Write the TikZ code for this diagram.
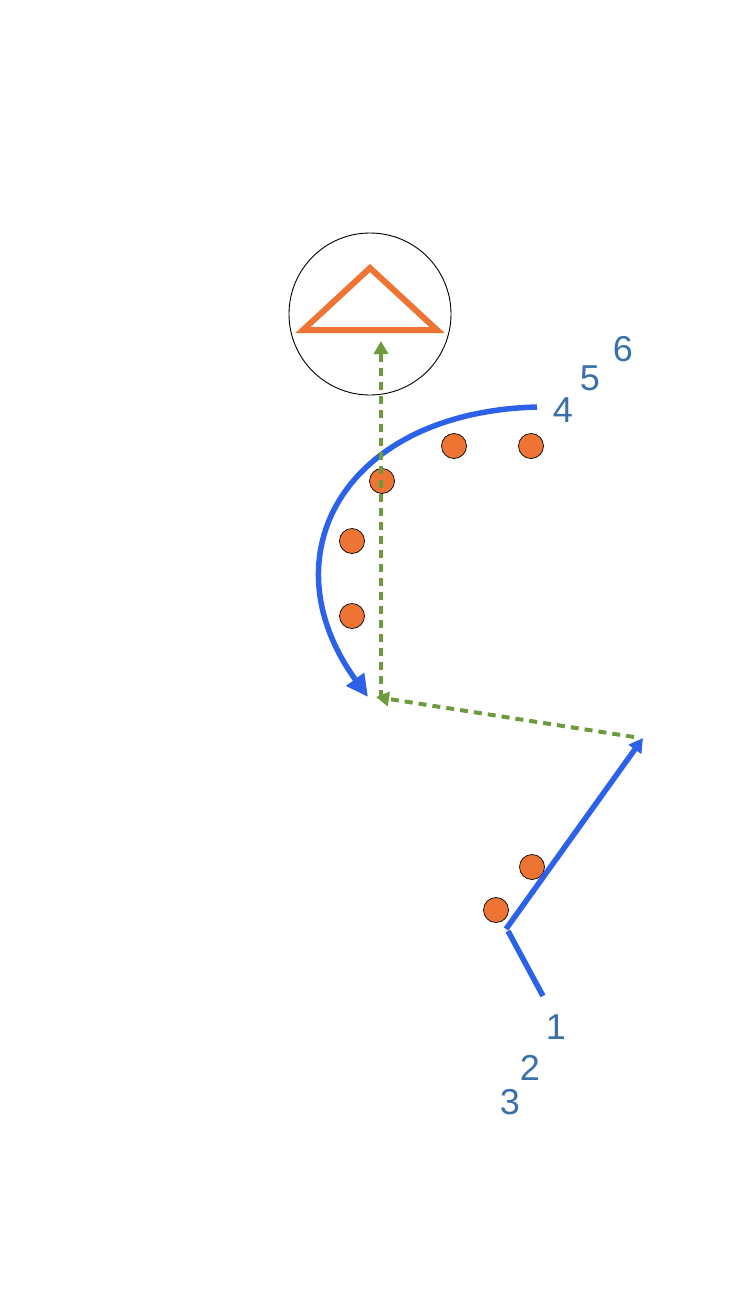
\documentclass[tikz,border=0pt]{standalone}
\usepackage{fontspec}
\setmainfont{Liberation Sans}
\usetikzlibrary{arrows.meta, shapes.geometric}
\definecolor{PlayBlue}{HTML}{2C62EA}
\definecolor{PlayOrange}{HTML}{ED7433}
\definecolor{PlayGreen}{HTML}{6E9A3E}
\definecolor{LabelBlue}{HTML}{3A70AA}

\tikzset{
  player/.style={circle, draw=black, line width=0.7pt, fill=PlayOrange, minimum size=25pt, inner sep=0pt},
  run/.style={PlayBlue, line width=5.5pt},
  pass/.style={PlayGreen, line width=4pt, dash pattern=on 8pt off 6pt},
  num/.style={LabelBlue, font=\fontsize{36}{42}\selectfont, inner sep=0pt}
}

\begin{document}
\begin{tikzpicture}[x=1pt, y=-1pt]
                \useasboundingbox (0,0) rectangle (739,1314);

                % Goal
                \node[circle, draw=black, line width=0.9pt, minimum size=162pt, inner sep=0pt] (goal) at (370,314) {};
                \draw[PlayOrange, line width=6pt, line join=miter] (370,268) -- (437,330) -- (303,330) -- cycle;

                % Players
                \node[player] (p1) at (454,446) {};
                \node[player] (p2) at (531,446) {};
                \node[player] (p3) at (382,481) {};
                \node[player] (p4) at (352,541) {};
                \node[player] (p5) at (352,616) {};
                \node[player] (p6) at (532,867) {};
                \node[player] (p7) at (496,910) {};

                % Route points
                \coordinate (curveStart) at (537,407);
                \coordinate (curveEnd) at (368,697);
                \coordinate (cutStart) at (543,996);
                \coordinate (cutTurn) at (508,931);
                \coordinate (cutBreak) at (506,929);
                \coordinate (cutEnd) at (643,738);
                \coordinate (passFrom) at (634,737);
                \coordinate (passTo) at (376,697);
                \coordinate (shotFrom) at (381,698);
                \coordinate (shotTo) at (381,341);

                % Runs
                \draw[run, -{Triangle[length=22pt, width=21pt]}] (curveStart) .. controls (345,412) and (265,555) .. (curveEnd);
                \draw[run] (cutStart) -- (cutTurn);
                \draw[run, -{Triangle[length=14pt, width=15pt]}] (cutBreak) -- (cutEnd);

                % Passes
                \draw[pass, -{Triangle[length=13pt, width=14pt]}] (passFrom) -- (passTo);
                \draw[pass, -{Triangle[length=13pt, width=14pt]}] (shotFrom) -- (shotTo);

                % Numbers
                \node[num] (n4) at (563,410) {4};
                \node[num] (n5) at (590,378) {5};
                \node[num] (n6) at (623,349) {6};
                \node[num] (n1) at (556,1027) {1};
                \node[num] (n2) at (530,1068) {2};
                \node[num] (n3) at (510,1102) {3};
            \end{tikzpicture}
\end{document}
